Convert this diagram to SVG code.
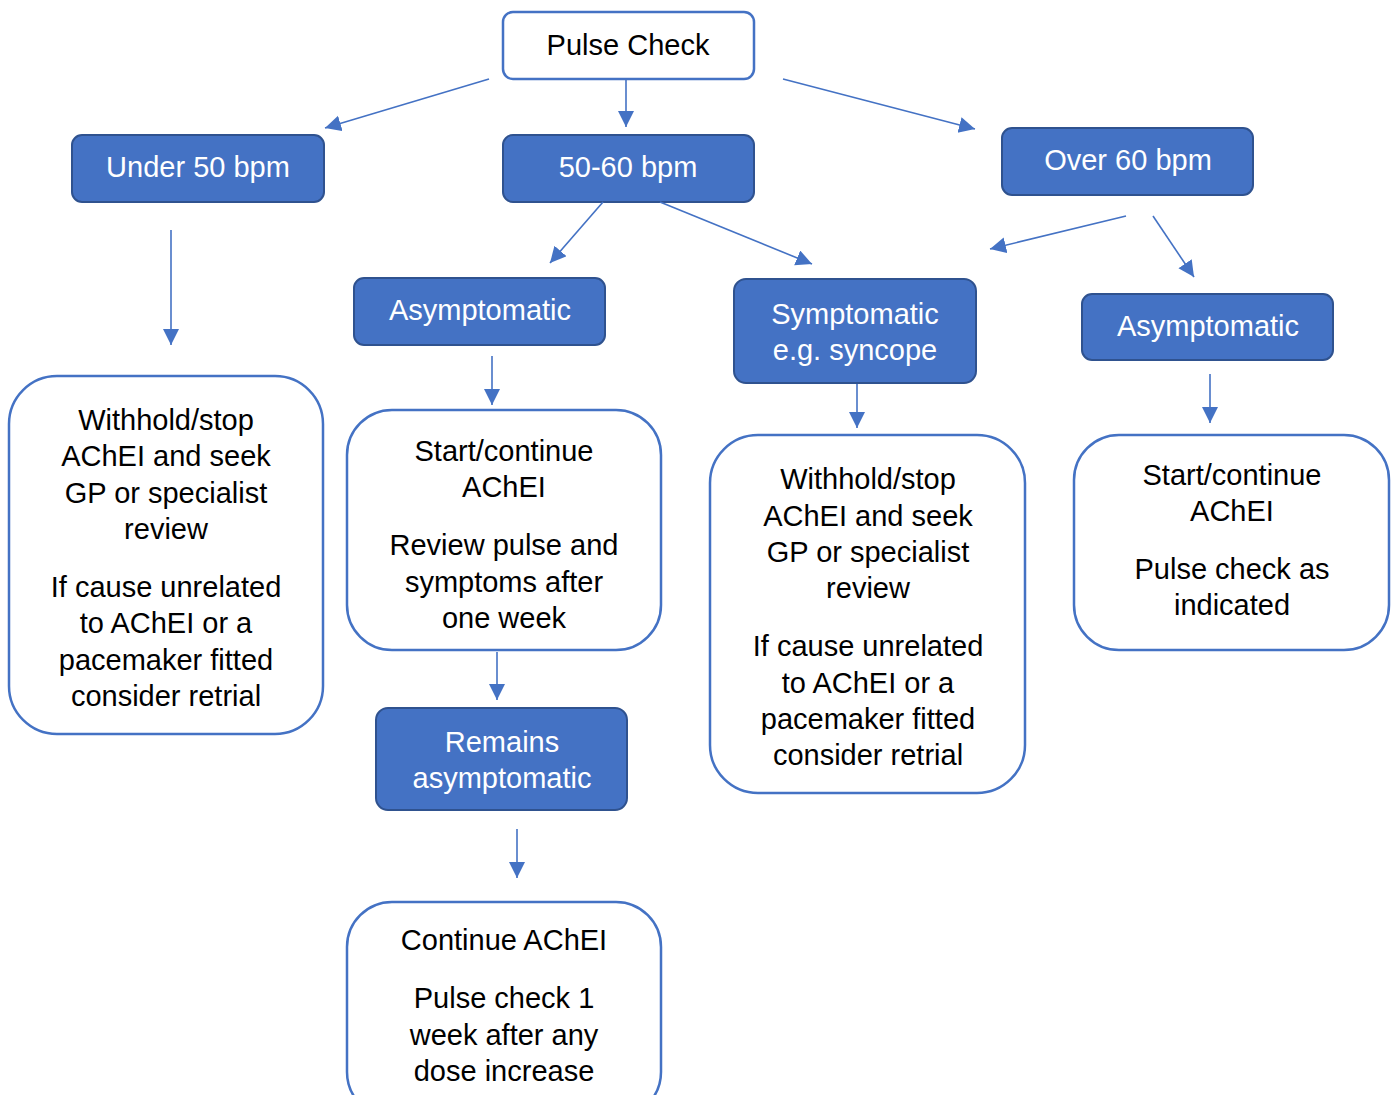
<svg xmlns="http://www.w3.org/2000/svg" width="1392" height="1095" viewBox="0 0 1392 1095">
<defs>
<marker id="ah" markerUnits="userSpaceOnUse" markerWidth="17" markerHeight="17" refX="16" refY="8" orient="auto">
<path d="M0,0 L16,8 L0,16 Z" fill="#4472C4"/>
</marker>
<style>
.t{font-family:"Liberation Sans",Arial,sans-serif;font-size:29px;text-anchor:middle}
.dk{fill:#000}
.wt{fill:#fff}
.fb{fill:#4472C4;stroke:#2F528F;stroke-width:2}
.wb{fill:#fff;stroke:#4472C4;stroke-width:2.5}
.c line{stroke:#4472C4;stroke-width:1.6;marker-end:url(#ah)}
</style>
</defs>
<rect width="1392" height="1095" fill="#fff"/>
<g id="pulse-check"><rect class="wb" x="503" y="12" width="251" height="67" rx="10"/><text class="t dk" x="628" y="55">Pulse Check</text></g>
<g id="under50"><rect class="fb" x="72" y="135" width="252" height="67" rx="10"/><text class="t wt" x="198" y="177">Under 50 bpm</text></g>
<g id="b5060"><rect class="fb" x="503" y="135" width="251" height="67" rx="10"/><text class="t wt" x="628" y="177">50-60 bpm</text></g>
<g id="over60"><rect class="fb" x="1002" y="128" width="251" height="67" rx="10"/><text class="t wt" x="1128" y="170">Over 60 bpm</text></g>
<g id="asym-left"><rect class="fb" x="354" y="278" width="251" height="67" rx="10"/><text class="t wt" x="480" y="320">Asymptomatic</text></g>
<g id="symptomatic"><rect class="fb" x="734" y="279" width="242" height="104" rx="12"/><text class="t wt" x="855" y="324">Symptomatic</text><text class="t wt" x="855" y="360">e.g. syncope</text></g>
<g id="asym-right"><rect class="fb" x="1082" y="294" width="251" height="66" rx="10"/><text class="t wt" x="1208" y="336">Asymptomatic</text></g>
<g id="withhold-left"><rect class="wb" x="9" y="376" width="314" height="358" rx="48"/>
<text class="t dk" x="166" y="430">Withhold/stop</text><text class="t dk" x="166" y="466">AChEI and seek</text><text class="t dk" x="166" y="503">GP or specialist</text><text class="t dk" x="166" y="539">review</text>
<text class="t dk" x="166" y="597">If cause unrelated</text><text class="t dk" x="166" y="633">to AChEI or a</text><text class="t dk" x="166" y="670">pacemaker fitted</text><text class="t dk" x="166" y="706">consider retrial</text></g>
<g id="start-left"><rect class="wb" x="347" y="410" width="314" height="240" rx="45"/>
<text class="t dk" x="504" y="461">Start/continue</text><text class="t dk" x="504" y="497">AChEI</text>
<text class="t dk" x="504" y="555">Review pulse and</text><text class="t dk" x="504" y="592">symptoms after</text><text class="t dk" x="504" y="628">one week</text></g>
<g id="remains"><rect class="fb" x="376" y="708" width="251" height="102" rx="12"/><text class="t wt" x="502" y="752">Remains</text><text class="t wt" x="502" y="788">asymptomatic</text></g>
<g id="continue"><rect class="wb" x="347" y="902" width="314" height="215" rx="45"/>
<text class="t dk" x="504" y="950">Continue AChEI</text>
<text class="t dk" x="504" y="1008">Pulse check 1</text><text class="t dk" x="504" y="1045">week after any</text><text class="t dk" x="504" y="1081">dose increase</text></g>
<g id="withhold-mid"><rect class="wb" x="710" y="435" width="315" height="358" rx="48"/>
<text class="t dk" x="868" y="489">Withhold/stop</text><text class="t dk" x="868" y="526">AChEI and seek</text><text class="t dk" x="868" y="562">GP or specialist</text><text class="t dk" x="868" y="598">review</text>
<text class="t dk" x="868" y="656">If cause unrelated</text><text class="t dk" x="868" y="693">to AChEI or a</text><text class="t dk" x="868" y="729">pacemaker fitted</text><text class="t dk" x="868" y="765">consider retrial</text></g>
<g id="start-right"><rect class="wb" x="1074" y="435" width="315" height="215" rx="45"/>
<text class="t dk" x="1232" y="485">Start/continue</text><text class="t dk" x="1232" y="521">AChEI</text>
<text class="t dk" x="1232" y="579">Pulse check as</text><text class="t dk" x="1232" y="615">indicated</text></g>
<g id="connectors" class="c">
<line x1="489" y1="79" x2="325" y2="128"/>
<line x1="626" y1="80" x2="626" y2="127"/>
<line x1="783" y1="79" x2="975" y2="129"/>
<line x1="603" y1="202" x2="550" y2="263"/>
<line x1="660" y1="202" x2="812" y2="264"/>
<line x1="1126" y1="216" x2="990" y2="249"/>
<line x1="1153" y1="216" x2="1194" y2="277"/>
<line x1="171" y1="230" x2="171" y2="345"/>
<line x1="492" y1="356" x2="492" y2="405"/>
<line x1="857" y1="384" x2="857" y2="428"/>
<line x1="1210" y1="374" x2="1210" y2="423"/>
<line x1="497" y1="652" x2="497" y2="700"/>
<line x1="517" y1="829" x2="517" y2="878"/>
</g>
</svg>
